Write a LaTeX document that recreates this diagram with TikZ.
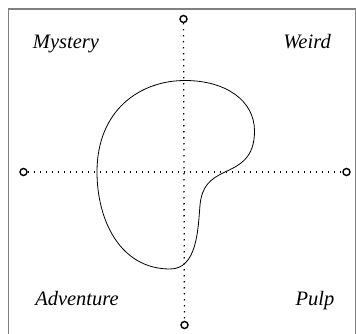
\documentclass[tikz,border=0pt]{standalone}
\usepackage{fontspec}
\setmainfont{Liberation Serif}
\usetikzlibrary{positioning}
\definecolor{framegray}{gray}{0.5}

\begin{document}
\begin{tikzpicture}[
    x=1pt, y=-1pt,
    label/.style={anchor=base, inner sep=0pt, font=\fontsize{20.5}{24}\selectfont\itshape},
    endpoint/.style={circle, draw=black, line width=1.4pt, fill=white, minimum size=7pt, inner sep=0pt},
    axis/.style={line width=1.3pt, dash pattern=on 1.3pt off 4.7pt, black},
    blob/.style={line width=0.8pt, black}
]

% ==================== FRAME ====================
\clip (0,0) rectangle (356,334);
\draw[framegray, line width=1.5pt] (8.5,345) -- (8.5,9) -- (355.5,9) -- (355.5,345);

% ==================== AXES ====================
\node[endpoint] (north) at (183.5,19) {};
\node[endpoint] (south) at (184.5,325) {};
\node[endpoint] (west) at (23.5,172) {};
\node[endpoint] (east) at (346.5,172) {};

\draw[axis] (north) -- (south);
\draw[axis] (west) -- (east);

% ==================== BLOB ====================
\draw[blob] (185,80.5) .. controls (225,80.5) and (254.5,100) .. (254.5,131)
    .. controls (254.5,158) and (240,165) .. (225,172)
    .. controls (210,179) and (202,186) .. (200,205)
    .. controls (198,230) and (197,269) .. (170,269)
    .. controls (120,269) and (97,220) .. (97,172)
    .. controls (97,110) and (140,80.5) .. cycle;

% ==================== LABELS ====================
\node[label] (mystery) at (66,49) {Mystery};
\node[label] (weird) at (307,49) {Weird};
\node[label] (adventure) at (77,305) {Adventure};
\node[label] (pulp) at (315,305) {Pulp};

\end{tikzpicture}
\end{document}
